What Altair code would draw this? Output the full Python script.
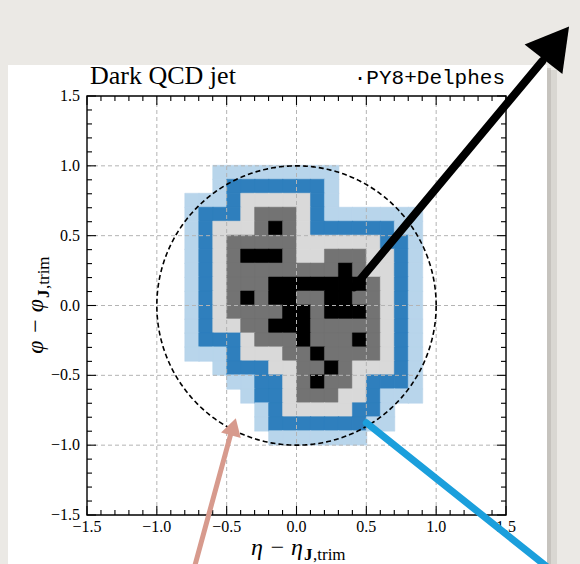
import altair as alt
import pandas as pd

W = 419
H = 419

# ---------------- data ----------------
# Jet image, one string per phi row (top row first), one digit per eta column.
# 0 = empty, 1 = light blue, 2 = dark blue, 3 = light grey, 4 = dark grey, 5 = black
eta_first = -0.8   # lower eta edge of first column
phi_top = 0.9      # lower phi edge of top row
cell = 0.1
jet_rows = [
    "00111111111000000",
    "00122222221000000",
    "11123333321000000",
    "12223444321111111",
    "12333454322222211",
    "12344444333333221",
    "12345554334443321",
    "12344444444543321",
    "12344455555554321",
    "12345455445544321",
    "12344445545554321",
    "12334455544444321",
    "12223444544454321",
    "11123334454444321",
    "00122233445433321",
    "00011223454432221",
    "00001223444332111",
    "00000123333322100",
    "00000122222221100",
    "00000011111110000",
]
level_names = ["1", "2", "3", "4", "5"]
level_colors = ["#b8d5eb", "#2f7fbd", "#d9d9d9", "#737373", "#000000"]

major_ticks = [-1.5, -1.0, -0.5, 0.0, 0.5, 1.0, 1.5]
minor_ticks = [-1.4, -1.3, -1.2, -1.1, -0.9, -0.8, -0.7, -0.6, -0.4, -0.3, -0.2, -0.1,
               0.1, 0.2, 0.3, 0.4, 0.6, 0.7, 0.8, 0.9, 1.1, 1.2, 1.3, 1.4]
grid_values = [-1.0, -0.5, 0.0, 0.5, 1.0]
jet_radius = 1.0

title_left = "Dark QCD jet"
title_right = "\u00b7PY8+Delphes"
xlab_main = "\u03b7 \u2212 \u03b7"
ylab_main = "\u03c6 \u2212 \u03c6"
sub_bold = "J"
sub_rest = ",trim"

# hand-drawn annotations (data coordinates)
black_arrow_eta = [0.41, 1.76]
black_arrow_phi = [0.13, 1.75]
black_head = [1.86, 1.88]
pink_arrow_eta = [-0.727, -0.468]
pink_arrow_phi = [-1.86, -0.91]
pink_head = [-0.452, -0.868]
blue_line_eta = [0.50, 1.83]
blue_line_phi = [-0.84, -1.90]

# ---------------- build tables ----------------
recs = []
for k, row in enumerate(jet_rows):
    plo = round(phi_top - k * cell, 2)
    for j, ch in enumerate(row):
        if ch != "0":
            elo = round(eta_first + j * cell, 2)
            recs.append({"eta": elo, "eta2": round(elo + cell, 2),
                         "phi": plo, "phi2": round(plo + cell, 2), "level": ch})
cells_df = pd.DataFrame(recs)
one = pd.DataFrame({"a": [0]})

xs = alt.Scale(domain=[-1.5, 1.5], nice=False, zero=False)
ys = alt.Scale(domain=[-1.5, 1.5], nice=False, zero=False)
SERIF = "Liberation Serif"

# ---------------- layers ----------------
card_shadow = alt.Chart(one).mark_rect(color="#c4c0bb", opacity=0.45).encode(
    x=alt.value(458), x2=alt.value(470), y=alt.value(-26), y2=alt.value(480))
card_shadow2 = alt.Chart(one).mark_rect(color="#aaa6a1", opacity=0.4).encode(
    x=alt.value(458), x2=alt.value(464), y=alt.value(-28), y2=alt.value(480))
card = alt.Chart(one).mark_rect(color="white").encode(
    x=alt.value(-79), x2=alt.value(460), y=alt.value(-31), y2=alt.value(480))

color_scale = alt.Scale(domain=level_names, range=level_colors)
cells = alt.Chart(cells_df).transform_calculate(
    e2="datum.eta2 + 0.004", p2="datum.phi2 + 0.004"
).mark_rect(strokeWidth=0.5).encode(
    x=alt.X("eta:Q", scale=xs, axis=None),
    x2="e2:Q",
    y=alt.Y("phi:Q", scale=ys, axis=None),
    y2="p2:Q",
    color=alt.Color("level:N", scale=color_scale, legend=None),
    stroke=alt.Stroke("level:N", scale=color_scale, legend=None),
)

grid_df = pd.DataFrame({"g": grid_values})
grid_v = alt.Chart(grid_df).mark_rule(color="#b4b4b4", strokeDash=[4, 3], strokeWidth=1).encode(
    x=alt.X("g:Q", scale=xs, axis=None), y=alt.value(0), y2=alt.value(H))
grid_h = alt.Chart(grid_df).mark_rule(color="#b4b4b4", strokeDash=[4, 3], strokeWidth=1).encode(
    y=alt.Y("g:Q", scale=ys, axis=None), x=alt.value(0), x2=alt.value(W))

circle = alt.Chart(alt.sequence(0, 6.29, 0.01, as_="t")).transform_calculate(
    cx=f"{jet_radius}*cos(datum.t)", cy=f"{jet_radius}*sin(datum.t)"
).mark_line(color="black", strokeDash=[5, 3], strokeWidth=1.6).encode(
    x=alt.X("cx:Q", scale=xs, axis=None), y=alt.Y("cy:Q", scale=ys, axis=None), order="t:Q")

frame = alt.Chart(one).mark_rect(filled=False, stroke="black", strokeWidth=1.4).encode(
    x=alt.value(0), x2=alt.value(W), y=alt.value(0), y2=alt.value(H))

maj_df = pd.DataFrame({"v": major_ticks})
min_df = pd.DataFrame({"v": minor_ticks})


def ticks(df, L):
    r = dict(color="black", strokeWidth=1.1)
    b = alt.Chart(df).mark_rule(**r).encode(x=alt.X("v:Q", scale=xs, axis=None), y=alt.value(H), y2=alt.value(H - L))
    t = alt.Chart(df).mark_rule(**r).encode(x=alt.X("v:Q", scale=xs, axis=None), y=alt.value(0), y2=alt.value(L))
    l = alt.Chart(df).mark_rule(**r).encode(y=alt.Y("v:Q", scale=ys, axis=None), x=alt.value(0), x2=alt.value(L))
    rr = alt.Chart(df).mark_rule(**r).encode(y=alt.Y("v:Q", scale=ys, axis=None), x=alt.value(W), x2=alt.value(W - L))
    return [b, t, l, rr]


tick_layers = ticks(maj_df, 9) + ticks(min_df, 5)

lab_calc = "replace(format(datum.v, '.1f'), '-', '\u2212')"
xlabels = alt.Chart(maj_df).transform_calculate(lab=lab_calc).mark_text(
    font=SERIF, fontSize=16, color="black", baseline="top", align="center").encode(
    x=alt.X("v:Q", scale=xs, axis=None), y=alt.value(H + 4), text="lab:N")
ylabels = alt.Chart(maj_df).transform_calculate(lab=lab_calc).mark_text(
    font=SERIF, fontSize=16, color="black", baseline="middle", align="right").encode(
    y=alt.Y("v:Q", scale=ys, axis=None), x=alt.value(-7), text="lab:N")


def txt(s, x, y, size, **kw):
    return alt.Chart(pd.DataFrame({"s": [s]})).mark_text(fontSize=size, color="black", **kw).encode(
        text="s:N", x=alt.value(x), y=alt.value(y))


texts = [
    txt(title_left, 3, -12, 26, font=SERIF, align="left", baseline="alphabetic"),
    txt(title_right, 418, -12, 21, font="Liberation Mono", align="right", baseline="alphabetic"),
    txt(xlab_main, 216, 459, 24, font=SERIF, fontStyle="italic", align="right", baseline="alphabetic"),
    txt(sub_bold, 217, 464, 17, font=SERIF, fontWeight="bold", align="left", baseline="alphabetic"),
    txt(sub_rest, 226, 464, 17, font=SERIF, align="left", baseline="alphabetic"),
    txt(ylab_main, -44, 203, 24, font=SERIF, fontStyle="italic", align="right", baseline="alphabetic", angle=270),
    txt(sub_bold, -38, 202, 17, font=SERIF, fontWeight="bold", align="left", baseline="alphabetic", angle=270),
    txt(sub_rest, -38, 193, 17, font=SERIF, align="left", baseline="alphabetic", angle=270),
]


# annotations
def ann_line(etas, phis, color, width):
    df = pd.DataFrame({"ax": etas, "ay": phis, "o": list(range(len(etas)))})
    return alt.Chart(df).mark_line(color=color, strokeWidth=width, strokeCap="round", clip=False).encode(
        x=alt.X("ax:Q", scale=xs, axis=None), y=alt.Y("ay:Q", scale=ys, axis=None), order="o:Q")


def ann_head(pos, color, size, angle):
    df = pd.DataFrame({"ax": [pos[0]], "ay": [pos[1]]})
    return alt.Chart(df).mark_point(shape="triangle-up", filled=True, size=size, angle=angle,
                                    color=color, opacity=1, strokeWidth=0, clip=False).encode(
        x=alt.X("ax:Q", scale=xs, axis=None), y=alt.Y("ay:Q", scale=ys, axis=None))


annots = [
    ann_line(blue_line_eta, blue_line_phi, "#1b9fdc", 7),
    ann_line(pink_arrow_eta, pink_arrow_phi, "#d79a8d", 5),
    ann_head(pink_head, "#d79a8d", 420, 16),
    ann_line(black_arrow_eta, black_arrow_phi, "black", 8),
    ann_head(black_head, "black", 2300, 38),
]

chart = alt.layer(
    card_shadow, card_shadow2, card, cells, grid_v, grid_h, circle, frame, *tick_layers,
    xlabels, ylabels, *texts, *annots
).properties(
    width=W, height=H,
    autosize=alt.AutoSizeParams(type="none"),
    padding={"left": 87, "top": 96, "right": 74, "bottom": 49},
    background="#ebe9e5",
).configure_view(stroke=None)

chart.save("out.html", embed_options={"renderer": "svg", "actions": False})
